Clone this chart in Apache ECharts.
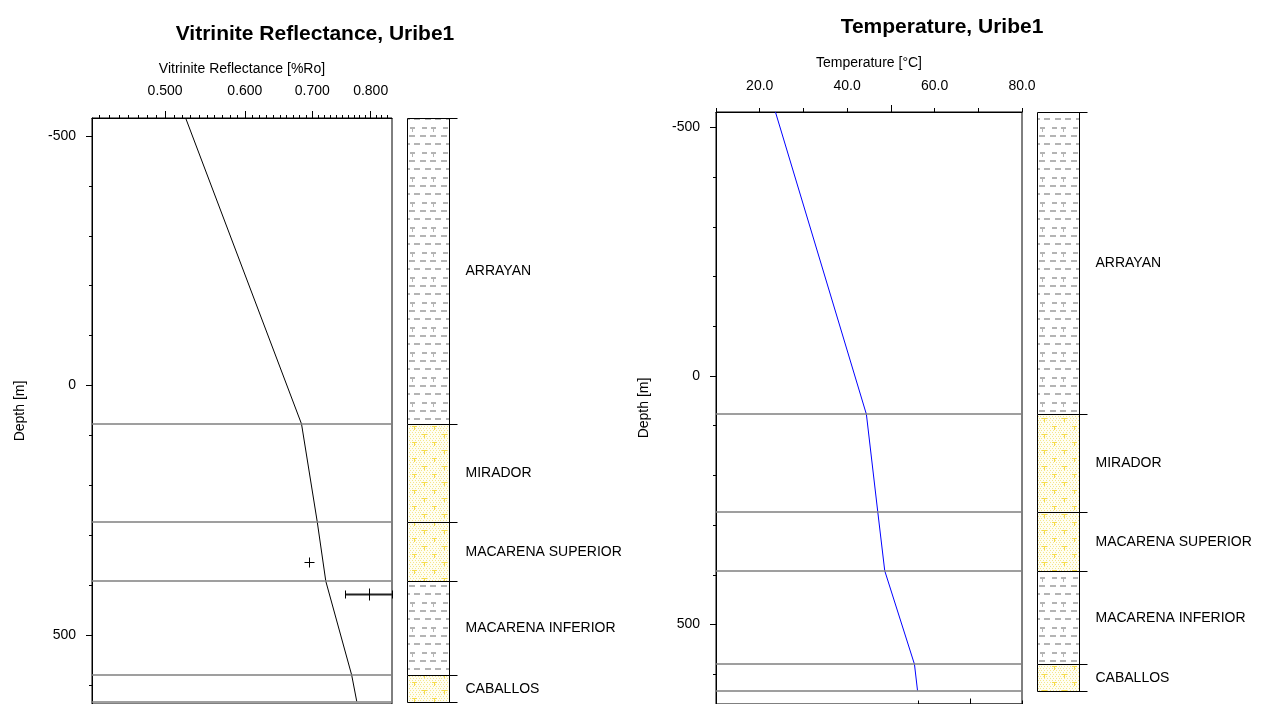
<!DOCTYPE html>
<html>
<head>
<meta charset="utf-8">
<script src="https://cdn.jsdelivr.net/npm/echarts@6/dist/echarts.min.js"></script>
<style>
  html, body { margin: 0; padding: 0; background: #fff; }
  #chart { width: 1266px; height: 704px; }
</style>
</head>
<body>
<div id="chart"></div>
<script>
// Modelled vitrinite reflectance (%Ro) against depth, well Uribe1
const roDepth = [-536, 77, 273, 392, 580, 633];
const roValue = [0.524, 0.683, 0.708, 0.722, 0.766, 0.775];

// Measured Ro samples (low/high give the spread; equal values = single point)
const roSampleDepth = [353, 418];
const roSampleValue = [0.695, 0.797];
const roSampleLow = [0.695, 0.755];
const roSampleHigh = [0.695, 0.840];

// Modelled temperature (°C) against depth
const tempDepth = [-531, 77, 273, 392, 580, 633];
const tempValue = [23.6, 44.4, 47.0, 48.6, 55.4, 56.1];

// Measured temperature
const tempSampleDepth = [659];
const tempSampleValue = [68.0];
const tempSampleLow = [56.2];
const tempSampleHigh = [80.0];

// Formations (top / base in m) and lithology
const formationNames = ['ARRAYAN', 'MIRADOR', 'MACARENA SUPERIOR', 'MACARENA INFERIOR', 'CABALLOS'];
const formationTops = [-540, 77, 273, 392, 580];
const formationBases = [77, 273, 392, 580, 633];
const formationLith = ['shale', 'sand', 'sand', 'shale', 'sand'];

// Axis ticks and labels
const roTicks = [0.5, 0.6, 0.7, 0.8];
const roMinorTicks = [0.43, 0.44, 0.45, 0.46, 0.47, 0.48, 0.49, 0.51, 0.52, 0.53, 0.54, 0.55, 0.56, 0.57, 0.58, 0.59,
  0.61, 0.62, 0.63, 0.64, 0.65, 0.66, 0.67, 0.68, 0.69, 0.71, 0.72, 0.73, 0.74, 0.75, 0.76, 0.77, 0.78, 0.79,
  0.81, 0.82, 0.83];
const tempLabels = [20, 40, 60, 80];
const tempMajorTicks = [50];
const depthLabels = [-500, 0, 500];
const depthMinorTicks = [-400, -300, -200, -100, 100, 200, 300, 400, 600];

const FONT = '"Liberation Sans", Arial, sans-serif';

// ---- lithology fill patterns ----
function makeShale() {
  const c = document.createElement('canvas');
  c.width = 21; c.height = 25;
  const g = c.getContext('2d');
  g.fillStyle = '#ffffff'; g.fillRect(0, 0, 21, 25);
  g.fillStyle = '#b4b4b4';
  // row with dash + T
  g.fillRect(2, 2, 5, 2);
  g.fillRect(11, 2, 5, 2); g.fillRect(13, 4, 1, 3);
  // two plain dash rows
  g.fillRect(0, 10, 6, 2); g.fillRect(10, 10, 6, 2);
  g.fillRect(5, 18, 6, 2); g.fillRect(15, 18, 6, 2);
  return c;
}
function makeSand() {
  const c = document.createElement('canvas');
  c.width = 20; c.height = 16;
  const g = c.getContext('2d');
  g.fillStyle = '#fffef2'; g.fillRect(0, 0, 20, 16);
  g.fillStyle = '#f4e68e';
  for (let y = 0; y < 16; y += 2) {
    for (let x = (y % 4 ? 1 : 0); x < 20; x += 3) g.fillRect(x, y, 1, 1);
  }
  g.fillStyle = '#f6dc4a';
  g.fillRect(2, 2, 5, 1); g.fillRect(4, 3, 1, 3);
  g.fillRect(12, 10, 5, 1); g.fillRect(14, 11, 1, 3);
  return c;
}
const patterns = {
  shale: { image: makeShale(), repeat: 'repeat' },
  sand: { image: makeSand(), repeat: 'repeat' }
};

// ---- lithology column ----
function columnSeries(xIdx, yIdx, axisMin) {
  return {
    type: 'custom', xAxisIndex: xIdx, yAxisIndex: yIdx, silent: true, z: 5,
    data: formationNames.map((n, i) => [i]),
    renderItem(params, api) {
      const i = api.value(0);
      const top = Math.max(formationTops[i], axisMin);
      const base = formationBases[i];
      const p0 = api.coord([0, top]);
      const p1 = api.coord([1, base]);
      const x0 = Math.round(p0[0]) + 0.5, x1 = Math.round(p1[0]) + 0.5;
      const y0 = Math.round(p0[1]) + 0.5, y1 = Math.round(p1[1]) + 0.5;
      const st = { stroke: '#000', lineWidth: 1 };
      const children = [
        { type: 'rect', shape: { x: x0, y: y0, width: x1 - x0, height: y1 - y0 }, style: { fill: patterns[formationLith[i]] } },
        { type: 'line', shape: { x1: x0, y1: y0, x2: x0, y2: y1 }, style: st },
        { type: 'line', shape: { x1: x1, y1: y0, x2: x1, y2: y1 }, style: st },
        { type: 'line', shape: { x1: x0, y1: y0, x2: x1 + 8, y2: y0 }, style: st },
        { type: 'text', style: { text: formationNames[i], x: x1 + 16, y: (y0 + y1) / 2, fill: '#000',
          font: '14px ' + FONT, align: 'left', verticalAlign: 'middle' } }
      ];
      if (i === formationNames.length - 1) {
        children.push({ type: 'line', shape: { x1: x0, y1: y1, x2: x1 + 8, y2: y1 }, style: st });
      }
      return { type: 'group', children };
    }
  };
}

// ---- measured samples: plus sign or horizontal range bar ----
function sampleSeries(xIdx, yIdx, depth, value, low, high) {
  return {
    type: 'custom', xAxisIndex: xIdx, yAxisIndex: yIdx, silent: true, z: 6,
    data: depth.map((d, i) => [value[i], d, low[i], high[i]]),
    renderItem(params, api) {
      const c = api.coord([api.value(0), api.value(1)]);
      const lo = api.coord([api.value(2), api.value(1)])[0];
      const hi = api.coord([api.value(3), api.value(1)])[0];
      const x = Math.round(c[0]) + 0.5, y = Math.round(c[1]) + 0.5;
      const st = { stroke: '#000', lineWidth: 1 };
      if (hi - lo < 1) {
        return { type: 'group', children: [
          { type: 'line', shape: { x1: x - 5, y1: y, x2: x + 5, y2: y }, style: st },
          { type: 'line', shape: { x1: x, y1: y - 5, x2: x, y2: y + 5 }, style: st }
        ] };
      }
      return { type: 'group', children: [
        { type: 'line', shape: { x1: lo, y1: y, x2: hi, y2: y }, style: { stroke: '#222', lineWidth: 2 } },
        { type: 'line', shape: { x1: Math.round(lo) + 0.5, y1: y - 4, x2: Math.round(lo) + 0.5, y2: y + 4 }, style: st },
        { type: 'line', shape: { x1: Math.round(hi) + 0.5, y1: y - 4, x2: Math.round(hi) + 0.5, y2: y + 4 }, style: st },
        { type: 'line', shape: { x1: x, y1: y - 6, x2: x, y2: y + 6 }, style: st }
      ] };
    }
  };
}

function formationLines() {
  return {
    silent: true, symbol: ['none', 'none'], animation: false,
    label: { show: false },
    lineStyle: { color: '#7f7f7f', width: 1.5, type: 'solid' },
    emphasis: { disabled: true },
    data: formationTops.slice(1).concat([formationBases[formationBases.length - 1]]).map(d => ({ yAxis: d }))
  };
}

const black = { color: '#000' };
const depthAxes = (gridIndex, min, max) => [
  {
    gridIndex, type: 'value', inverse: true, min, max, position: 'left',
    name: 'Depth [m]', nameLocation: 'middle', nameRotate: 90, nameGap: 65,
    nameTextStyle: { color: '#000', fontSize: 14, fontFamily: FONT },
    axisLine: { show: true, onZero: false, lineStyle: black },
    axisTick: { show: true, customValues: depthLabels, length: 6, lineStyle: black },
    axisLabel: { customValues: depthLabels, margin: 16, color: '#000', fontSize: 14, fontFamily: FONT },
    splitLine: { show: false }
  },
  {
    gridIndex, type: 'value', inverse: true, min, max, position: 'left', offset: 0,
    axisLine: { show: false, onZero: false },
    axisTick: { show: true, customValues: depthMinorTicks, length: 3, lineStyle: black },
    axisLabel: { show: false }, splitLine: { show: false }
  }
];

const option = {
  backgroundColor: '#fff',
  animation: false,
  title: [
    { text: 'Vitrinite Reflectance, Uribe1', left: 310, top: 19, textAlign: 'center',
      textStyle: { fontSize: 21, fontWeight: 'bold', color: '#000', fontFamily: FONT } },
    { text: 'Temperature, Uribe1', left: 937, top: 12, textAlign: 'center',
      textStyle: { fontSize: 21, fontWeight: 'bold', color: '#000', fontFamily: FONT } }
  ],
  grid: [
    { left: 92, top: 118, width: 300, height: 587, show: true, borderColor: '#000', borderWidth: 1, backgroundColor: 'transparent' },
    { left: 407, top: 118, width: 42, height: 587, show: false },
    { left: 716, top: 112, width: 306, height: 593, show: true, borderColor: '#000', borderWidth: 1, backgroundColor: 'transparent' },
    { left: 1037, top: 112, width: 42, height: 593, show: false }
  ],
  xAxis: [
    {
      gridIndex: 0, type: 'log', logBase: 10, min: 0.423, max: 0.84, position: 'top',
      name: 'Vitrinite Reflectance [%Ro]', nameLocation: 'middle', nameGap: 42,
      nameTextStyle: { color: '#000', fontSize: 14, fontFamily: FONT },
      axisLine: { show: true, onZero: false, lineStyle: black },
      axisTick: { show: true, customValues: roTicks, length: 7, lineStyle: black },
      axisLabel: { customValues: roTicks, margin: 20, color: '#000', fontSize: 14, fontFamily: FONT,
        formatter: v => Number(v).toFixed(3) },
      splitLine: { show: false }, minorSplitLine: { show: false }
    },
    {
      gridIndex: 0, type: 'log', logBase: 10, min: 0.423, max: 0.84, position: 'top',
      axisLine: { show: false, onZero: false },
      axisTick: { show: true, customValues: roMinorTicks, length: 3, lineStyle: black },
      axisLabel: { show: false }, splitLine: { show: false }
    },
    { gridIndex: 1, type: 'value', min: 0, max: 1, show: false },
    {
      gridIndex: 2, type: 'value', min: 10, max: 80, interval: 10, position: 'top',
      name: 'Temperature [°C]', nameLocation: 'middle', nameGap: 42,
      nameTextStyle: { color: '#000', fontSize: 14, fontFamily: FONT },
      axisLine: { show: true, onZero: false, lineStyle: black },
      axisTick: { show: true, length: 4, lineStyle: black },
      axisLabel: { customValues: tempLabels, margin: 19, color: '#000', fontSize: 14, fontFamily: FONT,
        formatter: v => Number(v).toFixed(1) },
      splitLine: { show: false }
    },
    {
      gridIndex: 2, type: 'value', min: 10, max: 80, position: 'top',
      axisLine: { show: false, onZero: false },
      axisTick: { show: true, customValues: tempMajorTicks, length: 7, lineStyle: black },
      axisLabel: { show: false }, splitLine: { show: false }
    },
    { gridIndex: 3, type: 'value', min: 0, max: 1, show: false }
  ],
  yAxis: [
    ...depthAxes(0, -536, 638),
    { gridIndex: 1, type: 'value', inverse: true, min: -536, max: 638, show: false },
    ...depthAxes(2, -531, 660),
    { gridIndex: 3, type: 'value', inverse: true, min: -531, max: 660, show: false }
  ],
  series: [
    {
      type: 'line', xAxisIndex: 0, yAxisIndex: 0, symbol: 'none', silent: true, z: 4,
      lineStyle: { color: '#000', width: 1 },
      data: roDepth.map((d, i) => [roValue[i], d]),
      markLine: formationLines()
    },
    sampleSeries(0, 0, roSampleDepth, roSampleValue, roSampleLow, roSampleHigh),
    columnSeries(2, 2, -536),
    {
      type: 'line', xAxisIndex: 3, yAxisIndex: 3, symbol: 'none', silent: true, z: 4,
      lineStyle: { color: '#0000ff', width: 1 },
      data: tempDepth.map((d, i) => [tempValue[i], d]),
      markLine: formationLines()
    },
    sampleSeries(3, 3, tempSampleDepth, tempSampleValue, tempSampleLow, tempSampleHigh),
    columnSeries(5, 5, -531)
  ]
};

const chart = echarts.init(document.getElementById('chart'), null, { renderer: 'canvas' });
chart.setOption(option);
</script>
</body>
</html>
